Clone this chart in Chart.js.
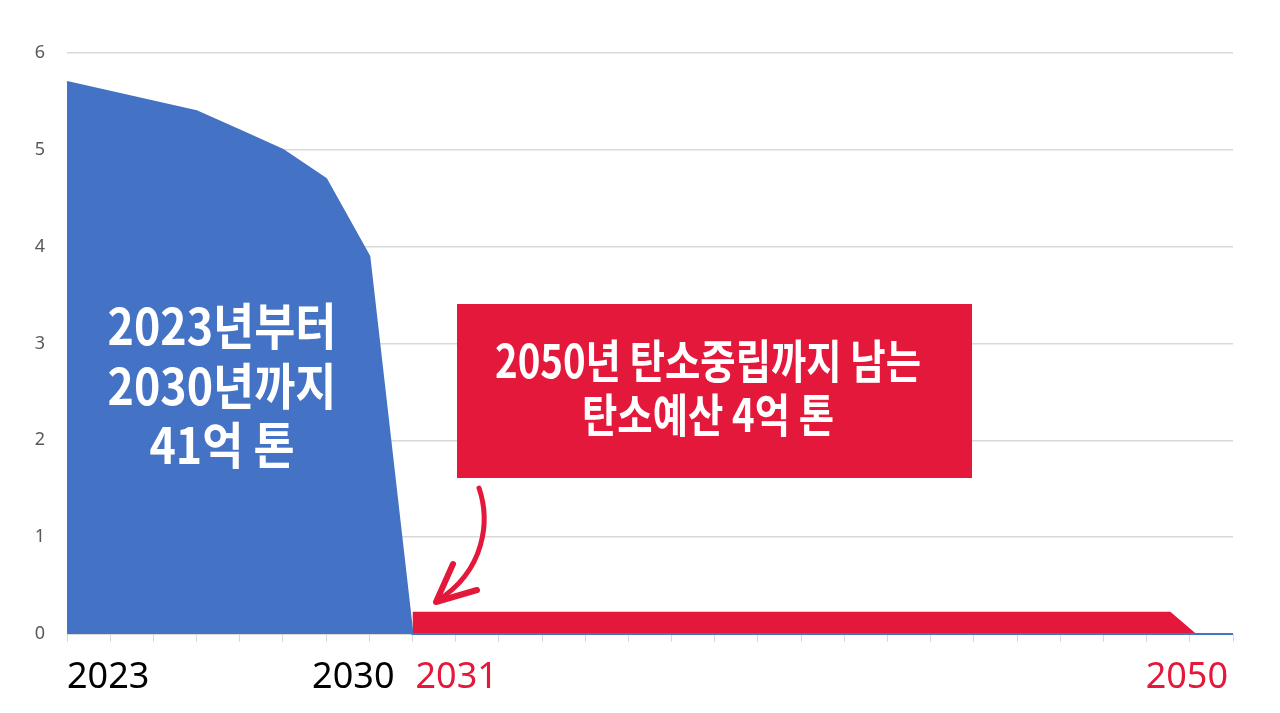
<!DOCTYPE html>
<html>
<head>
<meta charset="utf-8">
<script src="https://cdn.jsdelivr.net/npm/chart.js@4.4.1/dist/chart.umd.min.js"></script>
<style>
  html, body { margin: 0; padding: 0; background: #fff; }
  #wrap { width: 1280px; height: 713px; }
</style>
</head>
<body>
<div id="wrap"><canvas id="budgetChart" width="1280" height="713"></canvas></div>
<script>
// data
const blueYears = [2023, 2024, 2025, 2026, 2027, 2028, 2029, 2030, 2031, 2050];
const blueValues = [5.7, 5.6, 5.5, 5.4, 5.2, 5.0, 4.7, 3.9, 0, 0];
const redYears = [2031, 2048.55, 2049.15];
const redValues = [0.23, 0.23, 0];
const yTicks = [0, 1, 2, 3, 4, 5, 6];
const axisYears = [2023, 2030, 2031, 2050];
const axisColors = ["#000000", "#000000", "#e3183a", "#e3183a"];

const BLUE = "#4472c4";
const RED = "#e3183a";

const toPoints = (xs, ys) => xs.map((x, i) => ({ x: x, y: ys[i] }));

// draws one block of condensed white text, first line sets the squeeze
function drawBlock(ctx, lines, cx, baselines, size, targetWidth) {
  ctx.save();
  ctx.font = "bold " + size + "px 'Noto Sans CJK KR'";
  const s = targetWidth / ctx.measureText(lines[0]).width;
  ctx.fillStyle = "#ffffff";
  ctx.textAlign = "center";
  ctx.textBaseline = "alphabetic";
  lines.forEach((t, i) => {
    ctx.save();
    ctx.translate(cx, baselines[i]);
    ctx.scale(s, 1);
    ctx.fillText(t, 0, 0);
    ctx.restore();
  });
  ctx.restore();
}

const overlay = {
  id: "overlay",
  afterDraw(chart) {
    const ctx = chart.ctx;
    const x = chart.scales.x;

    // year labels under the axis
    ctx.save();
    ctx.font = "36px 'Noto Sans'";
    ctx.textBaseline = "alphabetic";
    const pos = [
      [x.getPixelForValue(axisYears[0]), "left"],
      [x.getPixelForValue(axisYears[2]) - 18, "right"],
      [x.getPixelForValue(axisYears[2]) + 3, "left"],
      [x.getPixelForValue(axisYears[3]) - 5, "right"]
    ];
    axisYears.forEach((yr, i) => {
      ctx.fillStyle = axisColors[i];
      ctx.textAlign = pos[i][1];
      ctx.fillText(String(yr), pos[i][0], 688);
    });
    ctx.restore();

    // text on the blue area
    drawBlock(ctx, ["2023년부터", "2030년까지", "41억 톤"], 222, [345, 405, 464], 50, 229);

    // red callout box
    ctx.save();
    ctx.fillStyle = RED;
    ctx.fillRect(457, 304, 515, 174);
    ctx.restore();
    drawBlock(ctx, ["2050년 탄소중립까지 남는", "탄소예산 4억 톤"], 708, [378, 432], 46, 426);

    // curved arrow
    ctx.save();
    ctx.strokeStyle = RED;
    ctx.lineWidth = 5;
    ctx.lineCap = "round";
    ctx.lineJoin = "round";
    ctx.beginPath();
    ctx.moveTo(479, 488);
    ctx.bezierCurveTo(490, 520, 486, 570, 437, 601);
    ctx.stroke();
    ctx.lineWidth = 6;
    ctx.beginPath();
    ctx.moveTo(453, 564);
    ctx.lineTo(436, 602);
    ctx.lineTo(477, 590);
    ctx.stroke();
    ctx.restore();
  }
};

new Chart(document.getElementById("budgetChart"), {
  type: "line",
  data: {
    datasets: [
      {
        data: toPoints(blueYears, blueValues),
        borderColor: BLUE,
        backgroundColor: BLUE,
        borderWidth: 2,
        fill: "origin",
        tension: 0,
        pointRadius: 0,
        clip: 4
      },
      {
        data: toPoints(redYears, redValues),
        borderColor: RED,
        backgroundColor: RED,
        borderWidth: 0,
        fill: "origin",
        tension: 0,
        pointRadius: 0
      }
    ]
  },
  options: {
    responsive: false,
    animation: false,
    layout: { padding: { top: 53, right: 47, left: 0, bottom: 0 } },
    plugins: { legend: { display: false }, tooltip: { enabled: false } },
    scales: {
      x: {
        type: "linear",
        min: 2023,
        max: 2050,
        ticks: { stepSize: 1, display: false },
        grid: { drawOnChartArea: false, drawTicks: true, tickLength: 8, color: "#d9d9d9" },
        border: { display: true, color: "#d9d9d9" },
        afterFit(scale) { scale.height = 79; }
      },
      y: {
        min: 0,
        max: 6,
        afterBuildTicks(scale) { scale.ticks = yTicks.map(v => ({ value: v })); },
        ticks: { color: "#595959", padding: 22, font: { family: "'Noto Sans'", size: 18 } },
        grid: { color: "#d9d9d9", lineWidth: 1.5, drawTicks: false },
        border: { display: false },
        afterFit(scale) { scale.width = 67; }
      }
    }
  },
  plugins: [overlay]
});
</script>
</body>
</html>
